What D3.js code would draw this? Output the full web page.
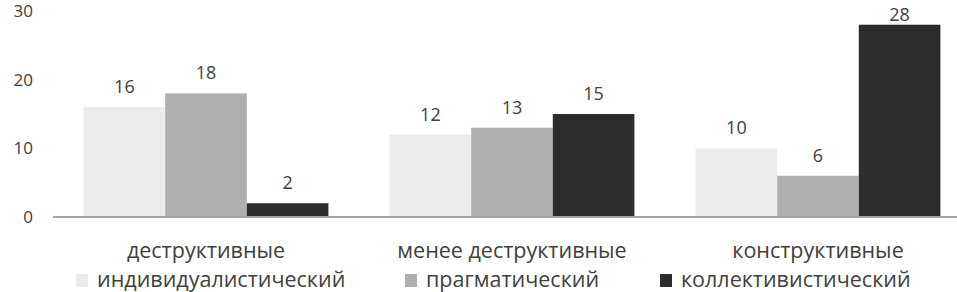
<!DOCTYPE html>
<html>
<head>
<meta charset="utf-8">
<script src="https://cdn.jsdelivr.net/npm/d3@7"></script>
<style>
  body { margin: 0; background: #fff; }
  svg { display: block; font-family: "Open Sans", sans-serif; }
</style>
</head>
<body>
<svg id="chart" width="957" height="292"></svg>
<script>
// categories and series
const categories = ["деструктивные", "менее деструктивные", "конструктивные"];
const seriesNames = ["индивидуалистический", "прагматический", "коллективистический"];
const individualistic = [16, 12, 10];
const pragmatic = [18, 13, 6];
const collectivist = [2, 15, 28];
const yTicks = [0, 10, 20, 30];

const seriesValues = [individualistic, pragmatic, collectivist];
const colors = ["#ebebeb", "#afafaf", "#2c2c2c"];

const svg = d3.select("#chart");

// plot area runs off the right edge like the original
const x0 = d3.scaleBand().domain(categories).range([53, 971]).paddingInner(0.2).paddingOuter(0.1);
const x1 = d3.scaleBand().domain(seriesNames).range([0, x0.bandwidth()]);
const y = d3.scaleLinear().domain([0, 30]).range([217, 11]);

// y tick labels (no axis line)
svg.append("g")
    .selectAll("text")
    .data(yTicks)
    .join("text")
    .attr("x", 33)
    .attr("y", d => y(d))
    .attr("dy", "0.35em")
    .attr("text-anchor", "end")
    .attr("font-size", "17px")
    .attr("fill", "#404040")
    .text(d => d);

// bars
const groups = svg.append("g")
    .selectAll("g")
    .data(categories)
    .join("g")
    .attr("transform", d => `translate(${x0(d)},0)`);

groups.selectAll("rect")
    .data((c, ci) => seriesNames.map((s, si) => ({ s, si, v: seriesValues[si][ci] })))
    .join("rect")
    .attr("x", d => x1(d.s))
    .attr("y", d => y(d.v))
    .attr("width", x1.bandwidth())
    .attr("height", d => y(0) - y(d.v))
    .attr("fill", d => colors[d.si]);

// value labels, kept inside the top edge for the tall bar
groups.selectAll("text")
    .data((c, ci) => seriesNames.map((s, si) => ({ s, si, v: seriesValues[si][ci] })))
    .join("text")
    .attr("x", d => x1(d.s) + x1.bandwidth() / 2)
    .attr("y", d => Math.max(y(d.v) - 14, 21))
    .attr("text-anchor", "middle")
    .attr("font-size", "18px")
    .attr("fill", "#404040")
    .text(d => d.v);

// x axis line
svg.append("line")
    .attr("x1", 53).attr("x2", 957)
    .attr("y1", y(0)).attr("y2", y(0))
    .attr("stroke", "#a6a6a6")
    .attr("stroke-width", 2);

// category labels
svg.append("g")
    .selectAll("text")
    .data(categories)
    .join("text")
    .attr("x", d => x0(d) + x0.bandwidth() / 2)
    .attr("y", 258)
    .attr("text-anchor", "middle")
    .attr("font-size", "21.5px")
    .attr("fill", "#404040")
    .text(d => d);

// legend
const legendX = [76, 405, 660];
const legend = svg.append("g")
    .selectAll("g")
    .data(seriesNames)
    .join("g")
    .attr("transform", (d, i) => `translate(${legendX[i]},287)`);

legend.append("rect")
    .attr("x", 0).attr("y", -13)
    .attr("width", 12).attr("height", 13)
    .attr("fill", (d, i) => colors[i]);

legend.append("text")
    .attr("x", 21)
    .attr("font-size", "21.5px")
    .attr("fill", "#404040")
    .text(d => d);
</script>
</body>
</html>
